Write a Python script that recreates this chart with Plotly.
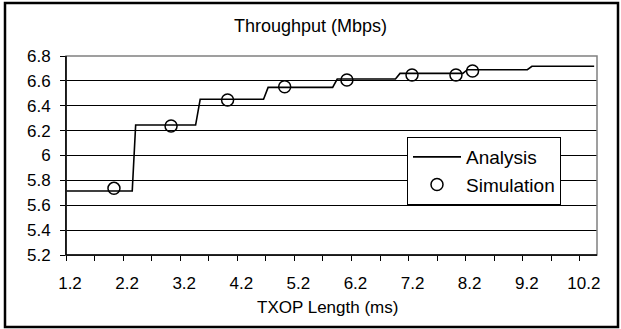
import plotly.graph_objects as go

# Analysis (step curve) and simulation points
analysis_x = [1.2, 2.36, 2.42, 3.47, 3.55, 4.66, 4.74, 5.87, 5.95, 6.97, 7.05, 8.15, 8.23, 9.28, 9.36, 10.45]
analysis_y = [5.715, 5.715, 6.245, 6.245, 6.452, 6.452, 6.548, 6.548, 6.615, 6.615, 6.66, 6.66, 6.69, 6.69, 6.717, 6.717]
sim_x = [2.04, 3.04, 4.03, 5.03, 6.12, 7.26, 8.03, 8.32]
sim_y = [5.736, 6.237, 6.446, 6.553, 6.607, 6.647, 6.647, 6.68]

x_tickvals = [1.2, 2.2, 3.2, 4.2, 5.2, 6.2, 7.2, 8.2, 9.2, 10.2]
x_ticktext = ["1.2", "2.2", "3.2", "4.2", "5.2", "6.2", "7.2", "8.2", "9.2", "10.2"]
y_tickvals = [5.2, 5.4, 5.6, 5.8, 6.0, 6.2, 6.4, 6.6, 6.8]
y_ticktext = ["5.2", "5.4", "5.6", "5.8", "6", "6.2", "6.4", "6.6", "6.8"]

FONT = "Liberation Sans, Arial, sans-serif"

fig = go.Figure()
fig.add_trace(go.Scatter(x=analysis_x, y=analysis_y, mode="lines", name="Analysis",
                         line=dict(color="black", width=1.6), legendgroup="a"))
fig.add_trace(go.Scatter(x=sim_x, y=sim_y, mode="markers", name="Simulation",
                         marker=dict(symbol="circle-open", size=12, color="black",
                                     line=dict(width=1.5, color="black")),
                         legendgroup="b"))

L, R, T, B = 66, 24, 56, 74
W, H = 621, 329
pw, ph = W - L - R, H - T - B

def px_x(x):
    return (x - L) / pw

def px_y(y):
    return (H - B - y) / ph

fig.update_layout(
    width=W, height=H,
    margin=dict(l=L, r=R, t=T, b=B),
    paper_bgcolor="white", plot_bgcolor="white",
    font=dict(family=FONT, size=17, color="black"),
    title=dict(text="Throughput (Mbps)", x=0.5, xanchor="center",
               y=1 - 25.5 / H, yanchor="middle", font=dict(size=18)),
    showlegend=True,
    legend=dict(x=px_x(407), y=px_y(137), xanchor="left", yanchor="top",
                bordercolor="black", borderwidth=1, bgcolor="white",
                font=dict(size=19), tracegroupgap=0, itemwidth=48),
    xaxis=dict(range=[1.2, 10.5], tickvals=x_tickvals, ticktext=x_ticktext,
               showgrid=False, zeroline=False, showline=True, linecolor="black", linewidth=1,
               ticks="outside", ticklen=5, tickcolor="black",
               minor=dict(tickvals=[v + 0.5 for v in x_tickvals], ticks="outside",
                          ticklen=5, tickcolor="black", showgrid=False),
               ticklabelstandoff=8, ticklabelshift=4),
    yaxis=dict(range=[5.2, 6.8], tickvals=y_tickvals, ticktext=y_ticktext,
               showgrid=True, gridcolor="black", gridwidth=1, zeroline=False,
               showline=True, linecolor="black", linewidth=1,
               ticks="outside", ticklen=5, tickcolor="black", ticklabelstandoff=6),
    shapes=[
        dict(type="rect", xref="paper", yref="paper", x0=0, x1=1, y0=0, y1=1,
             line=dict(color="#808080", width=1.5), layer="above"),
        dict(type="line", xref="paper", yref="paper", x0=0, x1=0, y0=0, y1=1,
             line=dict(color="black", width=1.5), layer="above"),
        dict(type="line", xref="paper", yref="paper", x0=0, x1=1, y0=0, y1=0,
             line=dict(color="black", width=1.5), layer="above"),
        dict(type="rect", xref="paper", yref="paper", x0=px_x(5), x1=px_x(618),
             y0=px_y(327), y1=px_y(3), line=dict(color="black", width=2.5)),
    ],
    annotations=[
        dict(text="TXOP Length (ms)", xref="paper", yref="paper",
             x=px_x(327), y=px_y(307), xanchor="center", yanchor="middle",
             showarrow=False, font=dict(size=17)),
    ],
)

fig.write_html("out.html", config={"displayModeBar": False},
               post_script="document.body.style.margin='0px';document.body.style.overflow='hidden';")
